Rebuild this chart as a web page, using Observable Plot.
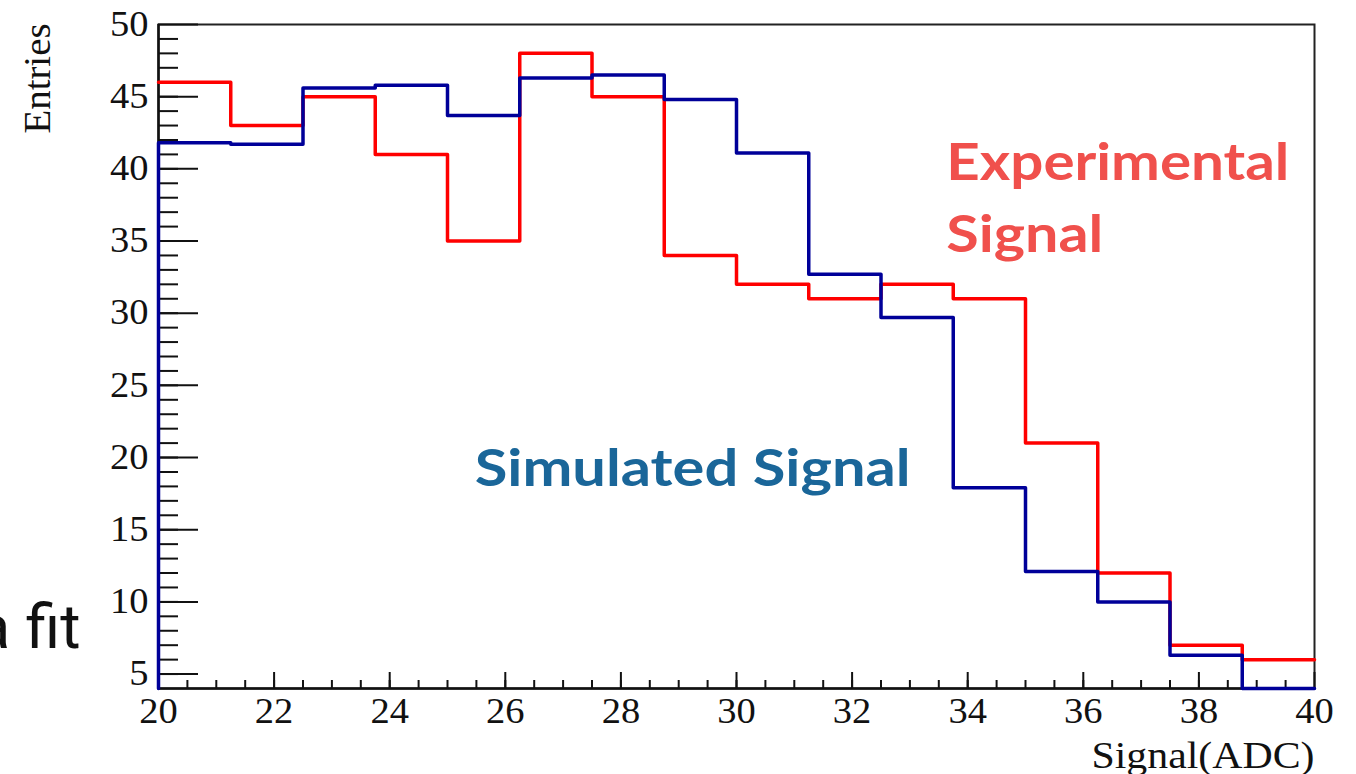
<!DOCTYPE html>
<html>
<head>
<meta charset="utf-8">
<script src="https://cdn.jsdelivr.net/npm/d3@7"></script>
<script src="https://cdn.jsdelivr.net/npm/@observablehq/plot@0.6"></script>
<style>
  html, body { margin: 0; padding: 0; background: #fff; }
  #chart { width: 1356px; height: 774px; overflow: hidden; }
</style>
</head>
<body>
<div id="chart"></div>
<script>
// ---- data ----
const binEdges = [20, 21.25, 22.5, 23.75, 25, 26.25, 27.5, 28.75, 30, 31.25, 32.5, 33.75, 35, 36.25, 37.5, 38.75];
const xUpper = 40;
const experimental = [46, 43, 45, 41, 35, 48, 45, 34, 32, 31, 32, 31, 21, 12, 7, 6];
const simulated = [41.8, 41.7, 45.6, 45.8, 43.7, 46.3, 46.5, 44.8, 41.1, 32.7, 29.7, 17.9, 12.1, 10.0, 6.3, 4.0];
const yDomain = [4, 50];
const xDomain = [20, 40];
const yMajorTicks = [5, 10, 15, 20, 25, 30, 35, 40, 45, 50];
const xMajorTicks = [20, 22, 24, 26, 28, 30, 32, 34, 36, 38, 40];
const yMinorTicks = d3.range(5, 50, 1);
const xMinorTicks = d3.range(20.5, 40, 0.5);

function stepData(values, fromFloor) {
  const pts = binEdges.map((x, i) => ({x, y: values[i]}));
  pts.push({x: xUpper, y: values[values.length - 1]});
  if (fromFloor) pts.unshift({x: binEdges[0], y: yDomain[0]});
  return pts;
}

const W = 1356, H = 774;
const mL = 158, mR = 42, mT = 24, mB = 86;
const fw = W - mL - mR, fh = H - mT - mB;
const serif = "'Liberation Serif', 'Times New Roman', serif";
const sans = "Lato, 'Open Sans', sans-serif";

const plot = Plot.plot({
  width: W, height: H,
  marginLeft: mL, marginRight: mR, marginTop: mT, marginBottom: mB,
  style: {fontFamily: serif, background: "#fff", color: "#111"},
  x: {domain: xDomain},
  y: {domain: yDomain},
  marks: [
    Plot.frame({stroke: "#222", strokeWidth: 2}),
    Plot.ruleX([xDomain[0]], {stroke: "#111", strokeWidth: 2.5}),
    Plot.ruleY([yDomain[0]], {stroke: "#111", strokeWidth: 2.5}),
    // inward ticks
    Plot.tickY(yMajorTicks, {y: d => d, insetRight: fw - 40, stroke: "#111", strokeWidth: 2}),
    Plot.tickY(yMinorTicks, {y: d => d, insetRight: fw - 20, stroke: "#111", strokeWidth: 2}),
    Plot.tickX(xMajorTicks, {x: d => d, insetTop: fh - 16, stroke: "#111", strokeWidth: 2}),
    Plot.tickX(xMinorTicks, {x: d => d, insetTop: fh - 8, stroke: "#111", strokeWidth: 2}),
    Plot.axisY({ticks: yMajorTicks, tickSize: 0, tickPadding: 10, fontSize: 35, fill: "#111", label: null}),
    Plot.axisX({ticks: xMajorTicks, tickSize: 0, tickPadding: 10, fontSize: 35, fill: "#111", label: null}),
    // histograms
    Plot.line(stepData(experimental, false), {x: "x", y: "y", curve: "step-after", stroke: "#ff0000", strokeWidth: 3.5}),
    Plot.line(stepData(simulated, true), {x: "x", y: "y", curve: "step-after", stroke: "#000099", strokeWidth: 3.5}),
    // axis titles
    Plot.text(["Entries"], {frameAnchor: "top-left", dx: -121, dy: -1, rotate: -90, textAnchor: "end", lineAnchor: "middle", fontSize: 38, fill: "#111"}),
    Plot.text(["Signal(ADC)"], {frameAnchor: "bottom-right", dx: 0, dy: 79, textAnchor: "end", lineAnchor: "bottom", fontSize: 38, fill: "#111"}),
    // annotations
    Plot.text(["Experimental"], {x: [33.63], y: [39.25], textAnchor: "start", lineAnchor: "bottom", fontSize: 52, fontWeight: "bold", fontFamily: sans, fill: "#f0504c"}),
    Plot.text(["Signal"], {x: [33.63], y: [34.25], textAnchor: "start", lineAnchor: "bottom", fontSize: 52, fontWeight: "bold", fontFamily: sans, fill: "#f0504c"}),
    Plot.text(["Simulated Signal"], {x: [25.47], y: [18.0], textAnchor: "start", lineAnchor: "bottom", fontSize: 52, fontWeight: "bold", fontFamily: sans, fill: "#1a6699"}),
    Plot.text(["a fit"], {frameAnchor: "bottom-left", dx: -182, dy: -41, textAnchor: "start", lineAnchor: "bottom", fontSize: 62, fontFamily: "Roboto, sans-serif", fill: "#111"})
  ]
});

document.getElementById("chart").appendChild(plot);

const svg = d3.select(plot);
function fitText(content, len) {
  svg.selectAll("text").filter(function() { return this.textContent === content; })
    .attr("textLength", len).attr("lengthAdjust", "spacingAndGlyphs");
}
fitText("Experimental", 343);
fitText("Signal", 157);
fitText("Simulated Signal", 436);
fitText("Entries", 110);
fitText("Signal(ADC)", 223);
fitText("a fit", 104);
// tick labels are slightly wide in the reference
svg.selectAll('g[aria-label="y-axis tick label"] text, g[aria-label="x-axis tick label"] text').each(function() {
  const t = this.getAttribute("transform") || "";
  this.setAttribute("transform", t + " scale(1.1,1)");
});
</script>
</body>
</html>
